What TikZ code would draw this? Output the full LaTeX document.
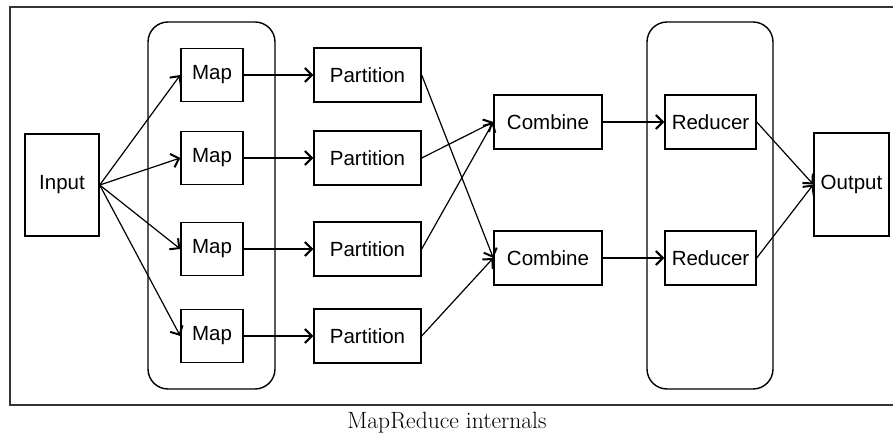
\documentclass[tikz,border=0pt]{standalone}
\usepackage{fontspec}
\newfontfamily\labelfont{Liberation Sans}
\usepackage{tikz}
\usetikzlibrary{arrows.meta, positioning}
\tikzstyle{box} = [rectangle, draw, line width = 1.4pt, inner sep = 0pt, font = {\labelfont\fontsize{20.5}{24}\selectfont}]
\tikzstyle{group} = [draw, line width = 1.4pt, rounded corners = 20pt]
\tikzstyle{arrow} = [draw, line width = 1.2pt, -{Straight Barb[length = 7pt, width = 14pt, line width = 2pt]}]

\begin{document}
\begin{tikzpicture}[x = 1pt, y = -1pt]
			\useasboundingbox (0, 0) rectangle (893, 438);
			\draw [line width = 1.6pt, black!80] (10, 7) rectangle (896, 405);
			\draw [group] (148, 22) rectangle (275, 389);
			\draw [group] (647, 22) rectangle (773, 389);

			\node [box, minimum width = 74pt, minimum height = 102pt] (input) at (62, 185) {Input};
			\node [box, minimum width = 62pt, minimum height = 53pt] (map1) at (212, 75) {Map};
			\node [box, minimum width = 62pt, minimum height = 53pt] (map2) at (212, 158) {Map};
			\node [box, minimum width = 62pt, minimum height = 53pt] (map3) at (212, 249) {Map};
			\node [box, minimum width = 62pt, minimum height = 53pt] (map4) at (212, 336) {Map};
			\node [box, minimum width = 107pt, minimum height = 54pt] (part1) at (367.5, 75) {Partition};
			\node [box, minimum width = 107pt, minimum height = 54pt] (part2) at (367.5, 158) {Partition};
			\node [box, minimum width = 107pt, minimum height = 54pt] (part3) at (367.5, 249) {Partition};
			\node [box, minimum width = 107pt, minimum height = 54pt] (part4) at (367.5, 336) {Partition};
			\node [box, minimum width = 108pt, minimum height = 54pt] (comb1) at (548, 122) {Combine};
			\node [box, minimum width = 108pt, minimum height = 54pt] (comb2) at (548, 258) {Combine};
			\node [box, minimum width = 91pt, minimum height = 54pt] (red1) at (710.5, 122) {Reducer};
			\node [box, minimum width = 91pt, minimum height = 54pt] (red2) at (710.5, 258) {Reducer};
			\node [box, minimum width = 75pt, minimum height = 103pt] (output) at (851.5, 184.5) {Output};
			\node [font = \fontsize{23.5}{28}\selectfont] (caption) at (447, 423) {MapReduce internals};

			\path [arrow] (input.east) -- (map1.west);
			\path [arrow] (input.east) -- (map2.west);
			\path [arrow] (input.east) -- (map3.west);
			\path [arrow] (input.east) -- (map4.west);
			\path [arrow] (map1) -- (part1);
			\path [arrow] (map2) -- (part2);
			\path [arrow] (map3) -- (part3);
			\path [arrow] (map4) -- (part4);
			\path [arrow] (part1.east) -- (comb2.west);
			\path [arrow] (part2.east) -- (comb1.west);
			\path [arrow] (part3.east) -- (comb1.west);
			\path [arrow] (part4.east) -- (comb2.west);
			\path [arrow] (comb1) -- (red1);
			\path [arrow] (comb2) -- (red2);
			\path [arrow] (red1.east) -- (output.west);
			\path [arrow] (red2.east) -- (output.west);
		\end{tikzpicture}
\end{document}
